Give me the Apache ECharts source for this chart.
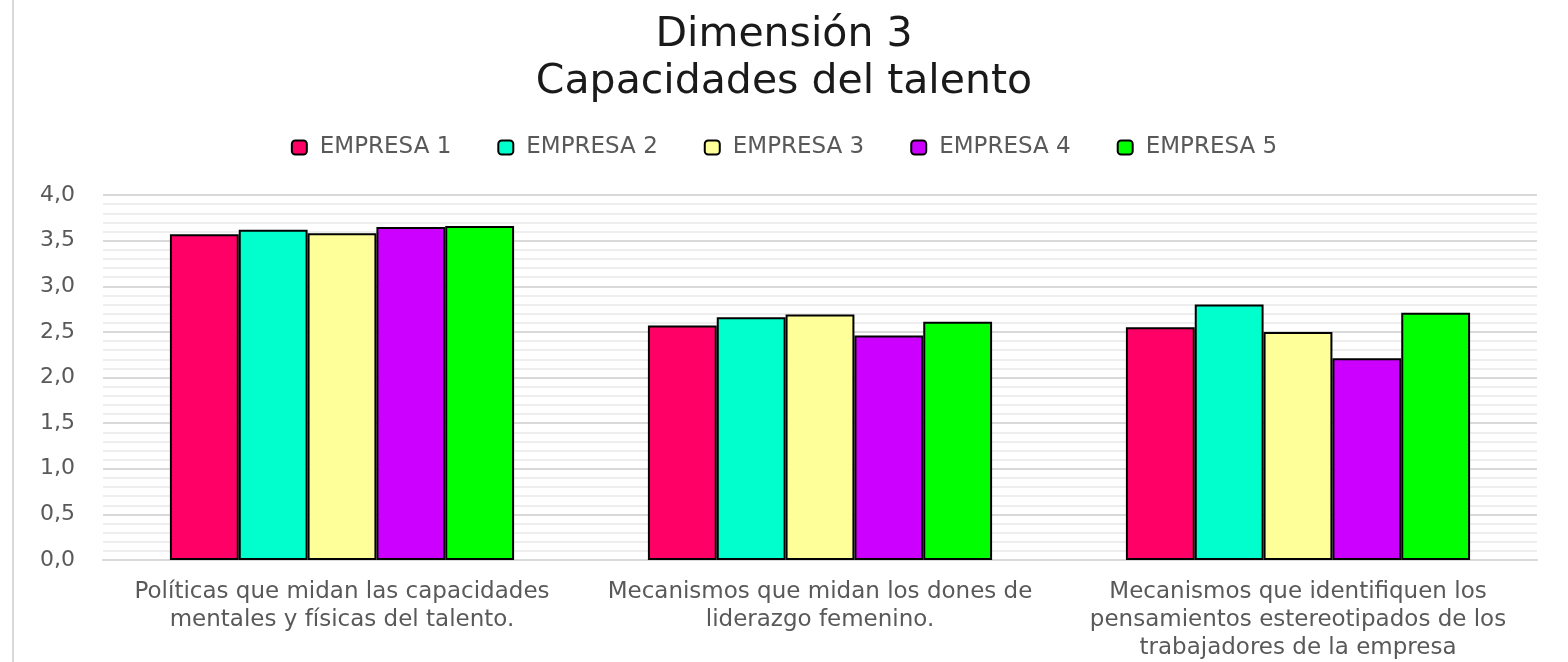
<!DOCTYPE html>
<html>
<head>
<meta charset="utf-8">
<script src="https://cdn.jsdelivr.net/npm/echarts@6/dist/echarts.min.js"></script>
<style>html,body{margin:0;padding:0;background:#fff}#c{width:1568px;height:662px}</style>
</head>
<body>
<div id="c"></div>
<script>
const categories = [
  "Políticas que midan las capacidades\nmentales y físicas del talento.",
  "Mecanismos que midan los dones de\nliderazgo femenino.",
  "Mecanismos que identifiquen los\npensamientos estereotipados de los\ntrabajadores de la empresa"
];
const seriesNames = ["EMPRESA 1", "EMPRESA 2", "EMPRESA 3", "EMPRESA 4", "EMPRESA 5"];
const empresa1 = [3.57, 2.57, 2.55];
const empresa2 = [3.62, 2.66, 2.80];
const empresa3 = [3.58, 2.69, 2.50];
const empresa4 = [3.65, 2.46, 2.21];
const empresa5 = [3.66, 2.61, 2.71];
const colors = ["#FF0066", "#00FFCC", "#FFFF99", "#CC00FF", "#00FF00"];
const values = [empresa1, empresa2, empresa3, empresa4, empresa5];

const FONT = "'DejaVu Sans', 'Open Sans', sans-serif";
const chart = echarts.init(document.getElementById('c'));
chart.setOption({
  animation: false,
  backgroundColor: '#fff',
  title: {
    text: 'Dimensión 3\nCapacidades del talento',
    left: 'center', top: 7,
    textStyle: { fontFamily: FONT, fontSize: 41, fontWeight: 'normal', color: '#1a1a1a', lineHeight: 47 }
  },
  legend: {
    data: seriesNames,
    top: 131, left: 'center',
    itemWidth: 15, itemHeight: 14, itemGap: 46,
    textStyle: { fontFamily: FONT, fontSize: 23, color: '#595959', padding: [0, 0, 0, 8] },
    itemStyle: { borderColor: '#000', borderWidth: 2 }
  },
  graphic: [{
    type: 'line', shape: { x1: 13, y1: 0, x2: 13, y2: 662 },
    style: { stroke: '#d9d9d9', lineWidth: 2 }
  }],
  grid: { left: 103, right: 31, top: 195, bottom: 99, containLabel: false },
  xAxis: {
    type: 'category', data: categories,
    axisLine: { show: true, lineStyle: { color: '#d9d9d9', width: 2 } },
    axisTick: { show: false },
    axisLabel: { fontFamily: FONT, fontSize: 23, color: '#595959', lineHeight: 28, margin: 18, interval: 0 }
  },
  yAxis: {
    type: 'value', min: 0, max: 4, interval: 0.5,
    axisLine: { show: false }, axisTick: { show: false },
    axisLabel: {
      fontFamily: FONT, fontSize: 22, color: '#595959', margin: 28,
      formatter: v => v.toFixed(1).replace('.', ',')
    },
    splitLine: { lineStyle: { color: '#d9d9d9', width: 2 } },
    minorTick: { show: false, splitNumber: 5 },
    minorSplitLine: { show: true, lineStyle: { color: '#eeeeee', width: 2 } }
  },
  series: values.map((d, i) => ({
    name: seriesNames[i], type: 'bar', data: d,
    barGap: '0%', barCategoryGap: '28%',
    itemStyle: { color: colors[i], borderColor: '#000', borderWidth: 2 }
  }))
});
</script>
</body>
</html>
